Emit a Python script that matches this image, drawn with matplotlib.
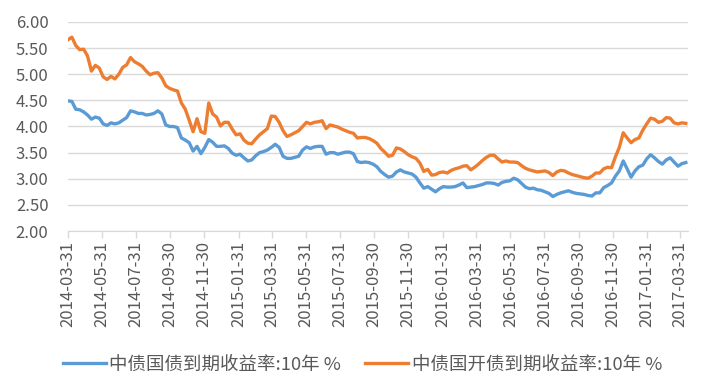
import pandas as pd
import matplotlib
matplotlib.use("Agg")
import matplotlib.pyplot as plt

plt.rcParams['font.family'] = ['Noto Sans CJK SC', 'DejaVu Sans']

# weekly readings, starting 2014-03-31
start_date = "2014-03-31"

gov_10y = [
    4.49, 4.48, 4.33, 4.32, 4.28, 4.22, 4.14, 4.18, 4.16, 4.05,
    4.02, 4.07, 4.05, 4.07, 4.12, 4.17, 4.30, 4.28, 4.25, 4.25,
    4.22, 4.23, 4.25, 4.30, 4.24, 4.03, 4.00, 4.00, 3.98, 3.78,
    3.74, 3.69, 3.53, 3.62, 3.48, 3.60, 3.75, 3.70, 3.62, 3.62,
    3.63, 3.58, 3.49, 3.45, 3.47, 3.40, 3.34, 3.36, 3.44, 3.50,
    3.52, 3.55, 3.60, 3.66, 3.60, 3.43, 3.39, 3.39, 3.41, 3.43,
    3.55, 3.61, 3.58, 3.61, 3.62, 3.62, 3.47, 3.50, 3.50, 3.47,
    3.49, 3.51, 3.51, 3.48, 3.33, 3.31, 3.32, 3.31, 3.28, 3.23,
    3.14, 3.08, 3.03, 3.05, 3.13, 3.17, 3.13, 3.11, 3.09, 3.03,
    2.92, 2.82, 2.85, 2.80, 2.75, 2.81, 2.85, 2.84, 2.84, 2.85,
    2.88, 2.92, 2.83, 2.84, 2.85, 2.87, 2.89, 2.92, 2.92, 2.91,
    2.88, 2.93, 2.95, 2.96, 3.01, 2.98, 2.91, 2.84, 2.81, 2.82,
    2.79, 2.78, 2.75, 2.72, 2.66, 2.70, 2.73, 2.75, 2.77, 2.74,
    2.72, 2.71, 2.70, 2.68, 2.67, 2.73, 2.73, 2.83, 2.87, 2.92,
    3.05, 3.15, 3.34, 3.19, 3.03, 3.15, 3.23, 3.26, 3.38, 3.46,
    3.40, 3.33, 3.28, 3.36, 3.40, 3.32, 3.24, 3.29, 3.31,
]

cdb_10y = [
    5.66, 5.71, 5.55, 5.47, 5.48, 5.35, 5.06, 5.17, 5.12, 4.95,
    4.90, 4.96, 4.91, 5.00, 5.13, 5.18, 5.32, 5.24, 5.20, 5.15,
    5.06, 4.99, 5.02, 5.03, 4.93, 4.78, 4.73, 4.70, 4.68, 4.45,
    4.33, 4.12, 3.90, 4.15, 3.90, 3.87, 4.45, 4.24, 4.18, 4.01,
    4.08, 4.08, 3.95, 3.84, 3.86, 3.74, 3.68, 3.67, 3.76, 3.84,
    3.90, 3.96, 4.20, 4.19, 4.08, 3.92, 3.81, 3.84, 3.88, 3.92,
    4.00, 4.08, 4.05, 4.08, 4.09, 4.11, 3.96, 4.03, 4.01, 3.99,
    3.95, 3.92, 3.89, 3.87, 3.78, 3.79, 3.79, 3.77, 3.73, 3.68,
    3.58, 3.51, 3.43, 3.45, 3.59, 3.57, 3.52, 3.46, 3.42, 3.39,
    3.30, 3.14, 3.18, 3.07, 3.08, 3.12, 3.13, 3.11, 3.16, 3.19,
    3.21, 3.24, 3.25, 3.17, 3.22, 3.28, 3.35, 3.41, 3.45, 3.45,
    3.38, 3.32, 3.34, 3.32, 3.32, 3.31, 3.25, 3.20, 3.17, 3.15,
    3.13, 3.14, 3.15, 3.12, 3.06, 3.13, 3.16, 3.15, 3.11, 3.08,
    3.06, 3.04, 3.02, 3.01, 3.05, 3.11, 3.11, 3.19, 3.22, 3.21,
    3.42, 3.60, 3.88, 3.78, 3.69, 3.75, 3.78, 3.93, 4.05, 4.16,
    4.14, 4.08, 4.10, 4.17, 4.16, 4.07, 4.05, 4.07, 4.06,
]

tick_labels = [
    "2014-03-31", "2014-05-31", "2014-07-31", "2014-09-30", "2014-11-30",
    "2015-01-31", "2015-03-31", "2015-05-31", "2015-07-31", "2015-09-30",
    "2015-11-30", "2016-01-31", "2016-03-31", "2016-05-31", "2016-07-31",
    "2016-09-30", "2016-11-30", "2017-01-31", "2017-03-31",
]

labels = ["中债国债到期收益率:10年 %", "中债国开债到期收益率:10年 %"]

dates = pd.date_range(start_date, periods=len(gov_10y), freq="7D")

fig = plt.figure(figsize=(7.11, 3.92), dpi=100)
ax = fig.add_axes([0.0956, 0.4107, 0.8721, 0.5332])

ax.plot(dates, gov_10y, color="#5B9BD5", lw=2.4, label=labels[0])
ax.plot(dates, cdb_10y, color="#ED7D31", lw=2.4, label=labels[1])

ax.set_ylim(2.0, 6.0)
ax.set_yticks([2.0 + 0.5 * i for i in range(9)])
ax.yaxis.set_major_formatter(matplotlib.ticker.FormatStrFormatter("%.2f"))
ax.set_xlim(pd.Timestamp("2014-03-31"), pd.Timestamp("2017-04-14"))
ax.set_xticks(pd.to_datetime(tick_labels))
ax.set_xticklabels(tick_labels, rotation=90)

ax.grid(axis="y", color="#D9D9D9", lw=1)
ax.set_axisbelow(True)
for side in ["left", "right", "top"]:
    ax.spines[side].set_visible(False)
ax.spines["bottom"].set_color("#D9D9D9")
ax.tick_params(axis="y", length=0, pad=14, labelsize=12, labelcolor="#595959")
ax.tick_params(axis="x", length=5, width=1, color="#D9D9D9", pad=2,
               labelsize=12, labelcolor="#595959")

fig.legend(loc="center", bbox_to_anchor=(0.51, 0.07), ncol=2, frameon=False,
           fontsize=13.3, handlelength=2.3, handletextpad=0.2, columnspacing=1.3,
           labelcolor="#595959")

fig.savefig("out.png", dpi=100)
